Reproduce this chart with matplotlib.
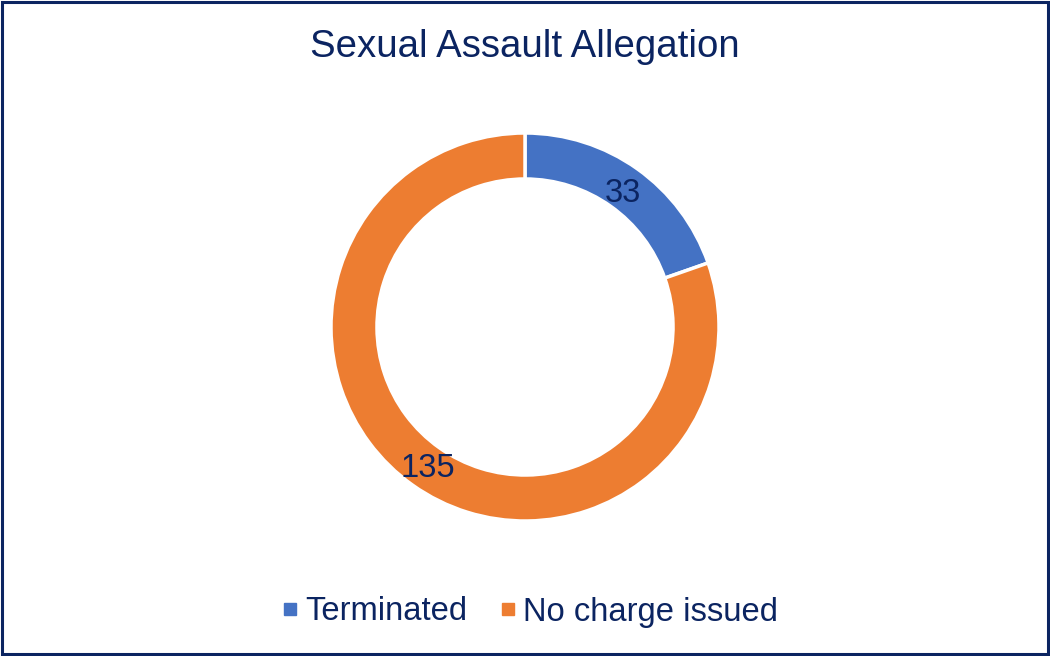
import numpy as np
import matplotlib.pyplot as plt
from matplotlib.lines import Line2D
from matplotlib.patches import Rectangle

plt.rcParams['font.family'] = ['Liberation Sans', 'DejaVu Sans']

# data
categories = ["Terminated", "No charge issued"]
counts = [33, 135]
colors = ["#4472C4", "#ED7D31"]
navy = "#0B2461"

fig = plt.figure(figsize=(10.5, 6.56), dpi=100)

# donut axes, square in pixels
W, H = 1050, 656
R = 194
cx, cy = 525, 327
ax = fig.add_axes([(cx - R) / W, (H - cy - R) / H, 2 * R / W, 2 * R / H])
wedges, _ = ax.pie(counts, colors=colors, startangle=90, counterclock=False,
                   radius=1.0, wedgeprops=dict(width=0.237, edgecolor="white", linewidth=2.5))
ax.set_xlim(-1, 1)
ax.set_ylim(-1, 1)
ax.axis("off")

# data labels in the middle of the ring
total = sum(counts)
start = 90.0
for v in counts:
    sweep = 360.0 * v / total
    mid = np.radians(start - sweep / 2)
    r = 0.87
    ax.text(r * np.cos(mid), r * np.sin(mid) - 0.02, str(v), ha="center", va="center",
            fontsize=23.5, color=navy)
    start -= sweep

# title
fig.text(0.5, 1 - 47 / H, "Sexual Assault Allegation", ha="center", va="center",
         fontsize=27.6, color=navy)

# legend
handles = [Line2D([], [], marker="s", linestyle="none", markersize=8.5,
                  markerfacecolor=c, markeredgecolor=c) for c in colors]
fig.legend(handles, categories, loc="center", bbox_to_anchor=(0.5 + 5 / W, 1 - 612 / H),
           ncol=2, frameon=False, fontsize=23.6, labelcolor=navy,
           handlelength=0.5, handletextpad=0.2, columnspacing=1.0, borderaxespad=0)

# border
fig.patches.append(Rectangle((0.0015, 0.0025), 0.997, 0.995, transform=fig.transFigure,
                             fill=False, edgecolor=navy, linewidth=2.2))

fig.savefig("out.png", dpi=100)
